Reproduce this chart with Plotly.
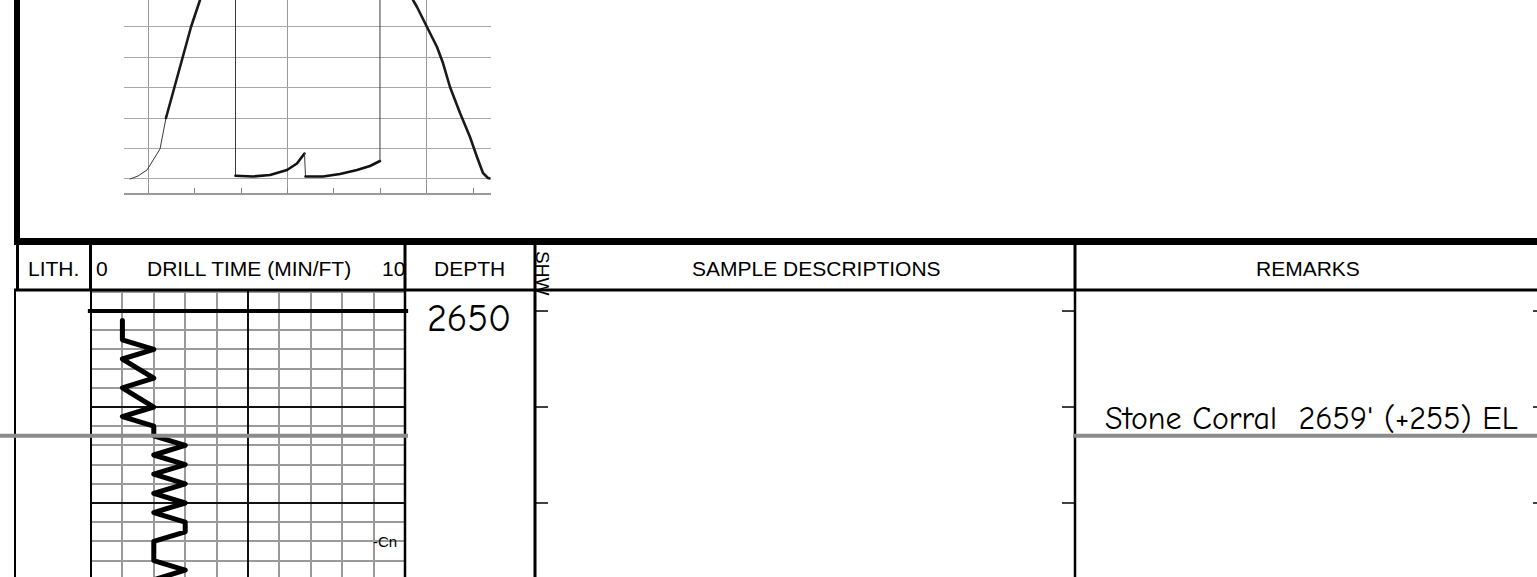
import plotly.graph_objects as go

W, H = 1537, 577

# ---------------- top chart: pressure record (chart-grid units) ----------------
rise_thin_t = [-0.394, -0.222, -0.028, 0.252, 0.381]
rise_thin_p = [0.0, 0.098, 0.295, 0.985, 2.003]
rise_t = [0.381, 0.554, 0.748, 0.920, 1.114]
rise_p = [2.003, 2.988, 4.005, 4.990, 5.877]
shutin1_t = [1.879, 1.879]
shutin1_p = [5.877, 0.108]
flow1_t = [1.879, 2.256, 2.623, 2.989, 3.204, 3.366]
flow1_p = [0.108, 0.082, 0.131, 0.295, 0.509, 0.837]
drop_t = [3.366, 3.388]
drop_p = [0.837, 0.082]
flow2_t = [3.388, 3.765, 4.131, 4.498, 4.778, 4.993]
flow2_p = [0.082, 0.082, 0.164, 0.295, 0.427, 0.591]
shutin2_t = [4.993, 4.993]
shutin2_p = [0.591, 5.877]
fall_t = [5.705, 5.791, 6.006, 6.222, 6.351, 6.502, 6.718, 6.933, 7.084, 7.213, 7.321, 7.37]
fall_p = [5.877, 5.647, 4.990, 4.334, 3.808, 3.020, 2.167, 1.379, 0.722, 0.197, 0.033, 0.016]

# ---------------- drill time log ----------------
dt_depth = [2651, 2653, 2654, 2655, 2657, 2658, 2660, 2661, 2662, 2663, 2664, 2665,
            2666, 2667, 2668, 2669, 2670, 2671, 2672, 2673, 2674, 2676, 2677, 2678]
dt_min = [1, 1, 2, 1, 2, 1, 2, 1, 2, 2, 3, 2,
          3, 2, 3, 2, 3, 2, 3, 3, 2, 2, 3, 2]

depth_marks = [2650, 2660, 2670]
depth_labels = ["2650"]
formation_top_depth = 2663
formation_text = "Stone Corral\u00a0 2659' (+255) EL"
connection_depth = 2674
connection_text = "-Cn"

header_labels = ["LITH.", "DRILL TIME (MIN/FT)", "DEPTH", "SAMPLE DESCRIPTIONS", "REMARKS"]
drill_scale = ["0", "10"]
show_label = "SHW"


def px(x):
    return x / W


def py(y):
    return 1 - y / H


fig = go.Figure()

thin = dict(color="#3a3a3a", width=1)
for t, p, ln in [
    (rise_thin_t, rise_thin_p, thin),
    (rise_t, rise_p, dict(color="#1a1a1a", width=2.6)),
    (shutin1_t, shutin1_p, thin),
    (flow1_t, flow1_p, dict(color="#111111", width=2.6)),
    (drop_t, drop_p, thin),
    (flow2_t, flow2_p, dict(color="#111111", width=2.6)),
    (shutin2_t, shutin2_p, thin),
    (fall_t, fall_p, dict(color="#1a1a1a", width=2.6)),
]:
    fig.add_trace(go.Scatter(x=t, y=p, mode="lines", line=ln, xaxis="x", yaxis="y",
                             hoverinfo="skip", showlegend=False))

fig.add_trace(go.Scatter(x=dt_min, y=dt_depth, mode="lines",
                         line=dict(color="black", width=5),
                         xaxis="x2", yaxis="y2", hoverinfo="skip", showlegend=False))

# top chart axes (grid units: 46.4 px per time tick, 30.46 px per pressure line)
fig.update_layout(
    xaxis=dict(domain=[px(124), px(490.5)], range=[-0.524, 7.375], anchor="y",
               showgrid=True, gridcolor="#9a9a9a", gridwidth=1, dtick=3, tick0=0,
               ticks="inside", ticklen=5, tickcolor="#888", tickwidth=1,
               minor=dict(dtick=1, tick0=0, ticks="inside", ticklen=5, tickcolor="#888",
                          showgrid=False),
               showticklabels=False, zeroline=False, showline=True,
               linecolor="#9a9a9a", linewidth=2, fixedrange=True),
    yaxis=dict(domain=[py(192.7), 1], range=[-0.45, 5.877], anchor="x",
               showgrid=True, gridcolor="#a8a8a8", gridwidth=1.4, dtick=1, tick0=0,
               showticklabels=False, zeroline=False, showline=False, ticks="",
               fixedrange=True),
    xaxis2=dict(domain=[px(91), px(405)], range=[0, 10], anchor="y2",
                showgrid=True, gridcolor="#111", gridwidth=1.5, dtick=5, tick0=0,
                minor=dict(dtick=1, tick0=0, showgrid=True, gridcolor="#9a9a9a",
                           gridwidth=1.5),
                showticklabels=False, zeroline=False, showline=False, ticks="",
                fixedrange=True),
    yaxis2=dict(domain=[0, py(290)], range=[2677.71, 2647.81], anchor="x2",
                showgrid=True, gridcolor="#111", gridwidth=1.5, dtick=10, tick0=2650,
                minor=dict(dtick=2, tick0=2650, showgrid=True, gridcolor="#9a9a9a",
                           gridwidth=1.5),
                showticklabels=False, zeroline=False, showline=False, ticks="",
                fixedrange=True),
)

shapes = []


def seg(x0, y0, x1, y1, w, c="black"):
    shapes.append(dict(type="line", xref="paper", yref="paper",
                       x0=px(x0), y0=py(y0), x1=px(x1), y1=py(y1),
                       line=dict(color=c, width=w), layer="above"))


# frame of the top panel
seg(17, 0, 17, 244, 6)
seg(14, 241.5, W, 241.5, 7)
# header row
seg(17.5, 241, 17.5, 290, 3)
seg(14, 290, W, 290, 3)
for xc in [90.5, 405, 535, 1075]:
    seg(xc, 244, xc, 290, 3)
# body column borders
for xc, w in [(15, 2), (91, 2), (405, 2.5), (535, 3), (1075, 2.5)]:
    seg(xc, 290, xc, H, w)

# thick 2650 line across drill-time track
shapes.append(dict(type="line", xref="x2 domain", yref="y2", x0=-0.01, x1=1.01,
                   y0=depth_marks[0], y1=depth_marks[0],
                   line=dict(color="black", width=4), layer="above"))
# depth tick marks
for d in depth_marks:
    for x0, x1 in [(535, 548), (1062, 1075), (1533, 1537)]:
        shapes.append(dict(type="line", xref="paper", yref="y2", x0=px(x0), x1=px(x1),
                           y0=d, y1=d, line=dict(color="black", width=1.5), layer="above"))
# formation top line
for x0, x1 in [(0, 408), (1073, W)]:
    shapes.append(dict(type="line", xref="paper", yref="y2", x0=px(x0), x1=px(x1),
                       y0=formation_top_depth, y1=formation_top_depth,
                       line=dict(color="#8c8c8c", width=4), layer="above"))

ann = []
hfont = dict(family="Liberation Sans, Arial, sans-serif", size=21, color="black")
for txt, xc in zip(header_labels, [53, 249, 469, 816, 1308]):
    ann.append(dict(text=txt, x=px(xc), y=py(268), xref="paper", yref="paper",
                    xanchor="center", yanchor="middle", showarrow=False, font=hfont))
ann.append(dict(text=drill_scale[0], x=px(94), y=py(268), xref="paper", yref="paper",
                xanchor="left", yanchor="middle", showarrow=False, font=hfont))
ann.append(dict(text=drill_scale[1], x=px(407), y=py(268), xref="paper", yref="paper",
                xanchor="right", yanchor="middle", showarrow=False, font=hfont))
ann.append(dict(text=show_label, x=px(543), y=py(273), xref="paper", yref="paper",
                xanchor="center", yanchor="middle", textangle=90, showarrow=False,
                font=dict(family="Liberation Sans, Arial, sans-serif", size=19, color="black")))

cfont = "Comic Sans MS, Comic Neue, Noto Sans, sans-serif"
ann.append(dict(text=depth_labels[0], x=px(469), y=depth_marks[0], xref="paper", yref="y2",
                xanchor="center", yanchor="middle", yshift=-8, showarrow=False,
                font=dict(family=cfont, size=38, color="black")))
ann.append(dict(text=formation_text, x=px(1103), y=formation_top_depth, xref="paper",
                yref="y2", xanchor="left", yanchor="bottom", yshift=-3, showarrow=False,
                font=dict(family=cfont, size=32, color="black")))
ann.append(dict(text=connection_text, x=9, y=connection_depth, xref="x2", yref="y2",
                xanchor="left", yanchor="middle", xshift=-3, showarrow=False,
                font=dict(family="Liberation Sans, Arial, sans-serif", size=15, color="black")))

fig.update_layout(width=W, height=H, margin=dict(l=0, r=0, t=0, b=0),
                  paper_bgcolor="white", plot_bgcolor="white",
                  shapes=shapes, annotations=ann, showlegend=False)

fig.write_html(
    "out.html", config=dict(displayModeBar=False),
    post_script=(
        "document.body.style.margin='0';document.body.style.overflow='hidden';"
        "var s=document.createElement('style');"
        "s.textContent='.scatterlayer .js-line{stroke-linejoin:round;stroke-linecap:round}';"
        "document.head.appendChild(s);"
    ),
)
